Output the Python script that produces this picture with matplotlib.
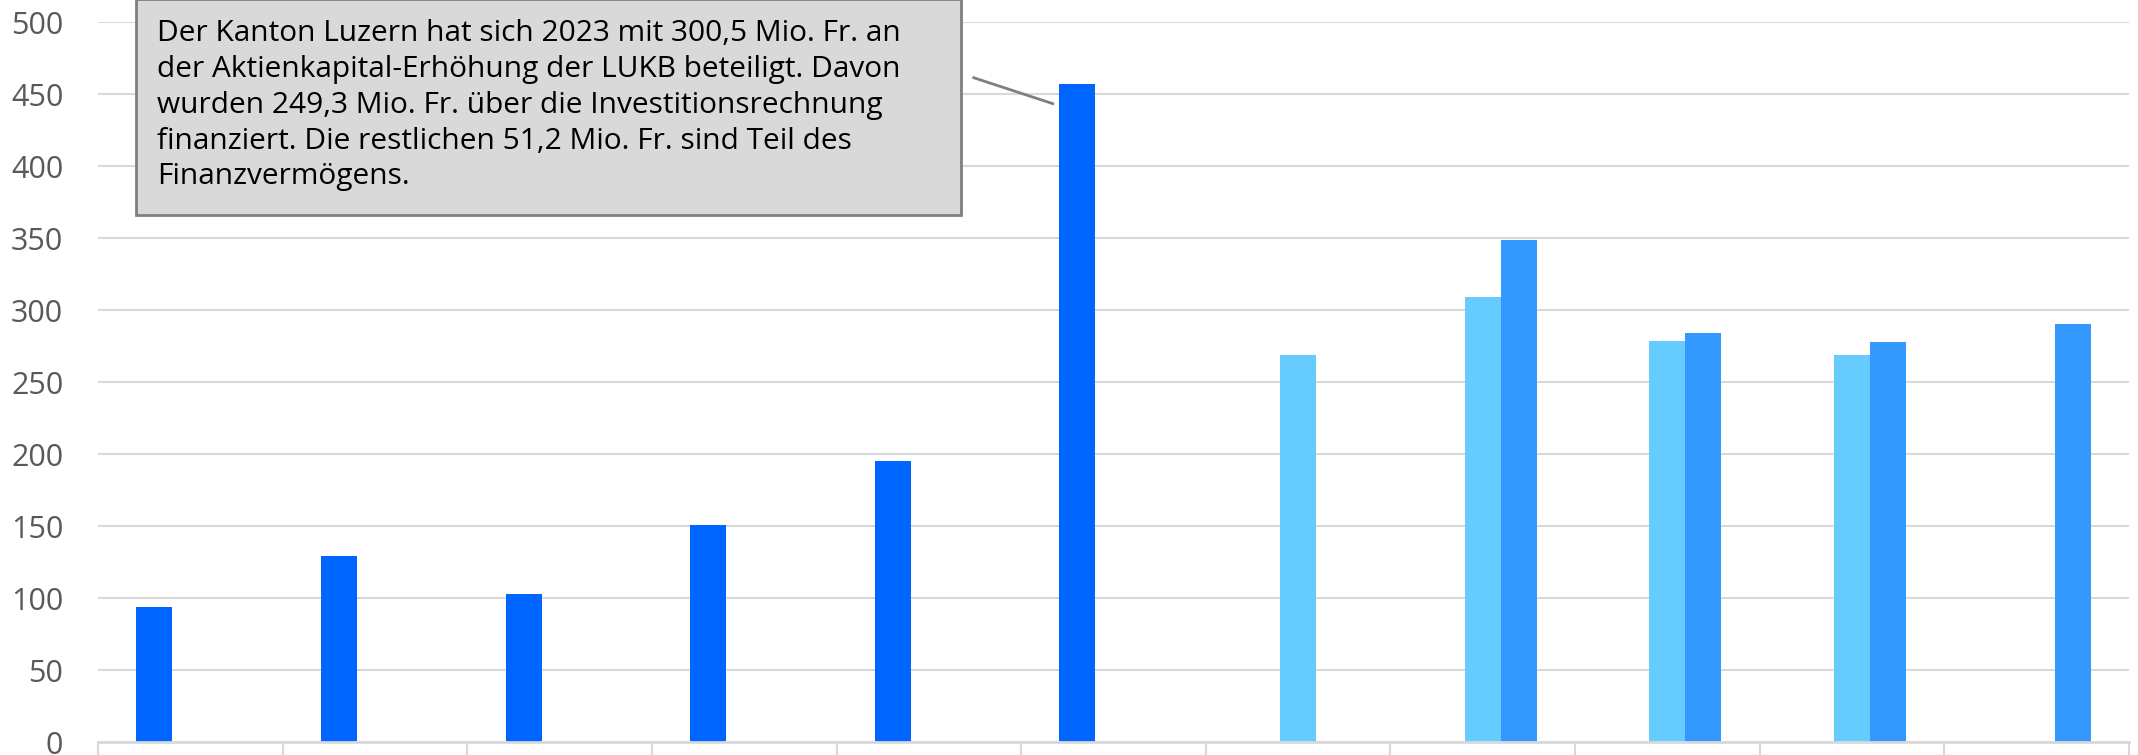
import numpy as np
import matplotlib
matplotlib.use("Agg")
import matplotlib.pyplot as plt
from matplotlib.patches import Rectangle

plt.rcParams['font.family'] = ['Open Sans', 'DejaVu Sans']

# categories (no labels shown in the chart)
categories = ['2018', '2019', '2020', '2021', '2022', '2023',
              '2024', '2025', '2026', '2027', '2028']
rechnung = [93.5, 129, 103, 151, 195, 457, np.nan, np.nan, np.nan, np.nan, np.nan]
voranschlag = [np.nan, np.nan, np.nan, np.nan, np.nan, np.nan, 269, 309, 278.5, 269, np.nan]
afp = [np.nan, np.nan, np.nan, np.nan, np.nan, np.nan, np.nan, 348.5, 284, 278, 290.5]
yticks = [0, 50, 100, 150, 200, 250, 300, 350, 400, 450, 500]

note = ("Der Kanton Luzern hat sich 2023 mit 300,5 Mio. Fr. an\n"
        "der Aktienkapital-Erhöhung der LUKB beteiligt. Davon\n"
        "wurden 249,3 Mio. Fr. über die Investitionsrechnung\n"
        "finanziert. Die restlichen 51,2 Mio. Fr. sind Teil des\n"
        "Finanzvermögens.")

fig = plt.figure(figsize=(21.38, 7.55), dpi=100)
ax = fig.add_axes([98 / 2138, 13 / 755, 2031 / 2138, 720 / 755])

x = np.arange(len(categories))
w = 0.195
ax.bar(x - w, rechnung, w, color='#0066FF', zorder=3)
ax.bar(x, voranschlag, w, color='#66CCFF', zorder=3)
ax.bar(x + w, afp, w, color='#3399FF', zorder=3)

ax.set_xlim(-0.5, len(categories) - 0.5)
ax.set_ylim(0, 500)
ax.set_yticks(yticks)
ax.yaxis.grid(True, color='#d9d9d9', linewidth=1.5, zorder=0)
ax.tick_params(axis='y', length=0, pad=25, labelsize=22, labelcolor='#595959')

ax.set_xticks(np.arange(len(categories) + 1) - 0.5)
ax.set_xticklabels([])
ax.tick_params(axis='x', length=14, width=1.5, color='#d9d9d9', direction='out')

for s in ['top', 'right', 'left']:
    ax.spines[s].set_visible(False)
ax.spines['bottom'].set_color('#d9d9d9')
ax.spines['bottom'].set_linewidth(2)
ax.spines['bottom'].set_zorder(4)

# annotation box
box = Rectangle((0.0187, 0.7319), 0.4062, 0.30, transform=ax.transAxes,
                facecolor='#d9d9d9', edgecolor='#7f7f7f', linewidth=2,
                clip_on=False, zorder=5)
ax.add_patch(box)
ax.text(0.029, 1.004, note, transform=ax.transAxes, ha='left', va='top',
        fontsize=21.5, linespacing=1.31, color='#000000', zorder=6)

# connector line to the 2023 bar
ax.plot([5 - w - 0.562, 5 - w - 0.134], [rechnung[5] + 4.3, rechnung[5] - 13.7],
        color='#7f7f7f', linewidth=2, zorder=5, clip_on=False)

fig.savefig('out.png', dpi=100)
